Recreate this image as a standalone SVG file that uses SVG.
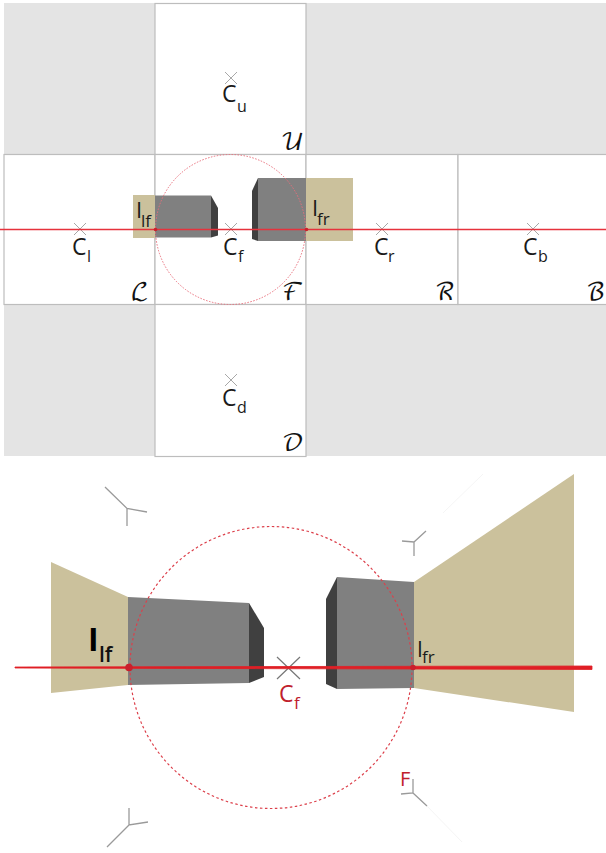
<svg xmlns="http://www.w3.org/2000/svg" width="606" height="853" viewBox="0 0 606 853">
<style>
text{font-family:"Open Sans","Noto Sans","Liberation Sans",sans-serif;fill:#1a1a1a}
.c{font-size:23px}
.s{font-size:16px}
.cal{font-family:"DejaVu Math TeX Gyre","Liberation Serif",serif;font-size:24px;fill:#111;text-anchor:end}
.gray{fill:#e4e4e4}
.pane{fill:#fff;stroke:#bdbdbd;stroke-width:1.2}
.x{stroke:#a8a8a8;stroke-width:1;fill:none}
.tan{fill:#cbc19c}
.front{fill:#808080}
.side{fill:#404040}
.axis{stroke:#9a9a9a;stroke-width:1.3;fill:none}
.red{fill:#c9202c}
</style>
<rect width="606" height="853" fill="#fff"/>
<g id="cube-map">
<rect class="gray" x="4" y="3" width="602" height="453"/>
<g id="pane-U"><rect class="pane" x="155" y="3.500" width="151" height="151"/><path class="x" d="M225 72l12 12m0-12l-12 12"/><text class="c" x="222" y="102">C</text><text class="s" x="237" y="112">u</text><text class="cal" x="304" y="150">𝒰</text></g>
<g id="pane-L"><rect class="pane" x="4" y="154.500" width="151" height="150"/><path class="x" d="M74 223l12 12m0-12l-12 12"/><text class="c" x="72" y="255">C</text><text class="s" x="87" y="262">l</text><text class="cal" x="149" y="300">ℒ</text></g>
<g id="pane-F"><rect class="pane" x="155" y="154.500" width="151" height="150"/></g>
<g id="pane-R"><rect class="pane" x="306" y="154.500" width="152" height="150"/><path class="x" d="M376 223l12 12m0-12l-12 12"/><text class="c" x="374" y="255">C</text><text class="s" x="388" y="262">r</text><text class="cal" x="455" y="300">ℛ</text></g>
<g id="pane-B"><rect class="pane" x="458" y="154.500" width="150" height="150"/><path class="x" d="M527 223l12 12m0-12l-12 12"/><text class="c" x="523" y="255">C</text><text class="s" x="538" y="262">b</text><text class="cal" x="605" y="300">ℬ</text></g>
<g id="pane-D"><rect class="pane" x="155" y="304.500" width="151" height="152"/><path class="x" d="M225 374l12 12m0-12l-12 12"/><text class="c" x="222" y="406">C</text><text class="s" x="237" y="413">d</text><text class="cal" x="304" y="451">𝒟</text></g>
<g id="top-scene">
<rect class="tan" x="133" y="195" width="22" height="43"/>
<rect class="tan" x="306" y="178" width="47" height="63"/>
<path class="front" d="M155 195.500H211V237.500H155Z"/>
<path class="side" d="M211 195.500L218 208V235.500L211 237.500Z"/>
<path class="front" d="M258 178H306V241H258Z"/>
<path class="side" d="M258 178L252 191V239L258 241Z"/>
<path class="x" d="M225 223l12 12m0-12l-12 12"/>
</g>
<text class="c" x="223" y="255">C</text><text class="s" x="238" y="262">f</text>
<text class="cal" x="304" y="300">ℱ</text>
<text x="136" y="218" style="font-size:22px">I</text><text x="141" y="227" style="font-size:17px">lf</text>
<text x="312" y="216" style="font-size:22px">I</text><text x="317" y="225" style="font-size:17px">fr</text>
<circle cx="230.500" cy="229.500" r="75" fill="none" stroke="#ea6f7c" stroke-width="1" stroke-dasharray="1.500 1.500"/>
<path d="M0 229.500H606" stroke="#e6323c" stroke-width="1.300"/>
<circle class="red" cx="155.500" cy="229.500" r="1.800"/>
<circle class="red" cx="306.500" cy="229.500" r="1.800"/>
</g>
<g id="perspective-scene">
<path class="tan" d="M51 562L128 597V685L51 693Z"/>
<path class="tan" d="M414 582L574 474V712L414 688Z"/>
<path class="front" d="M128 597L249 603V683L128 685Z"/>
<path class="side" d="M249 603L264 628V677L249 683Z"/>
<path class="front" d="M337 577L414 582V688L337 689Z"/>
<path class="side" d="M337 577L326 599V684L337 689Z"/>
<circle cx="271" cy="667.500" r="141" fill="none" stroke="#dc3f4a" stroke-width="1.200" stroke-dasharray="2.500 2.500"/>
<path class="x" d="M277 657l23 22m0-22l-23 22" style="stroke:#777;stroke-width:1.200"/>
<path d="M15 667L592 666V669.500L15 668Z" fill="#e01f26" stroke="#e01f26" stroke-width="0.800"/>
<circle class="red" cx="129" cy="667.500" r="3.800"/>
<circle class="red" cx="413" cy="667.500" r="2.800"/>
<text x="88" y="651" style="font-size:32px;font-weight:700;fill:#000">I</text>
<text x="99" y="662" style="font-size:21px;font-weight:600;fill:#111">lf</text>
<text x="417" y="657" style="font-size:21px">I</text><text x="422" y="663" style="font-size:17px">fr</text>
<text x="279" y="702" style="font-size:23px;fill:#c0202c">C</text><text x="294" y="709" style="font-size:17px;fill:#c0202c">f</text>
<text x="400" y="786" style="font-size:20px;fill:#c0202c">F</text>
</g>
<g id="axes">
<path class="axis" d="M105 487L127 508.500L147 512M127 508.500V526"/>
<path class="axis" d="M426 531L414 542L402 541M414 542V556"/>
<path class="axis" d="M129 808V825L148 822M129 825L107 847"/>
<path class="axis" d="M413 779V793L401 794M413 793L427 806"/>
<path d="M427 806L462 842M443 513L483 474" stroke="#f5f5f5" fill="none"/>
</g>
</svg>
